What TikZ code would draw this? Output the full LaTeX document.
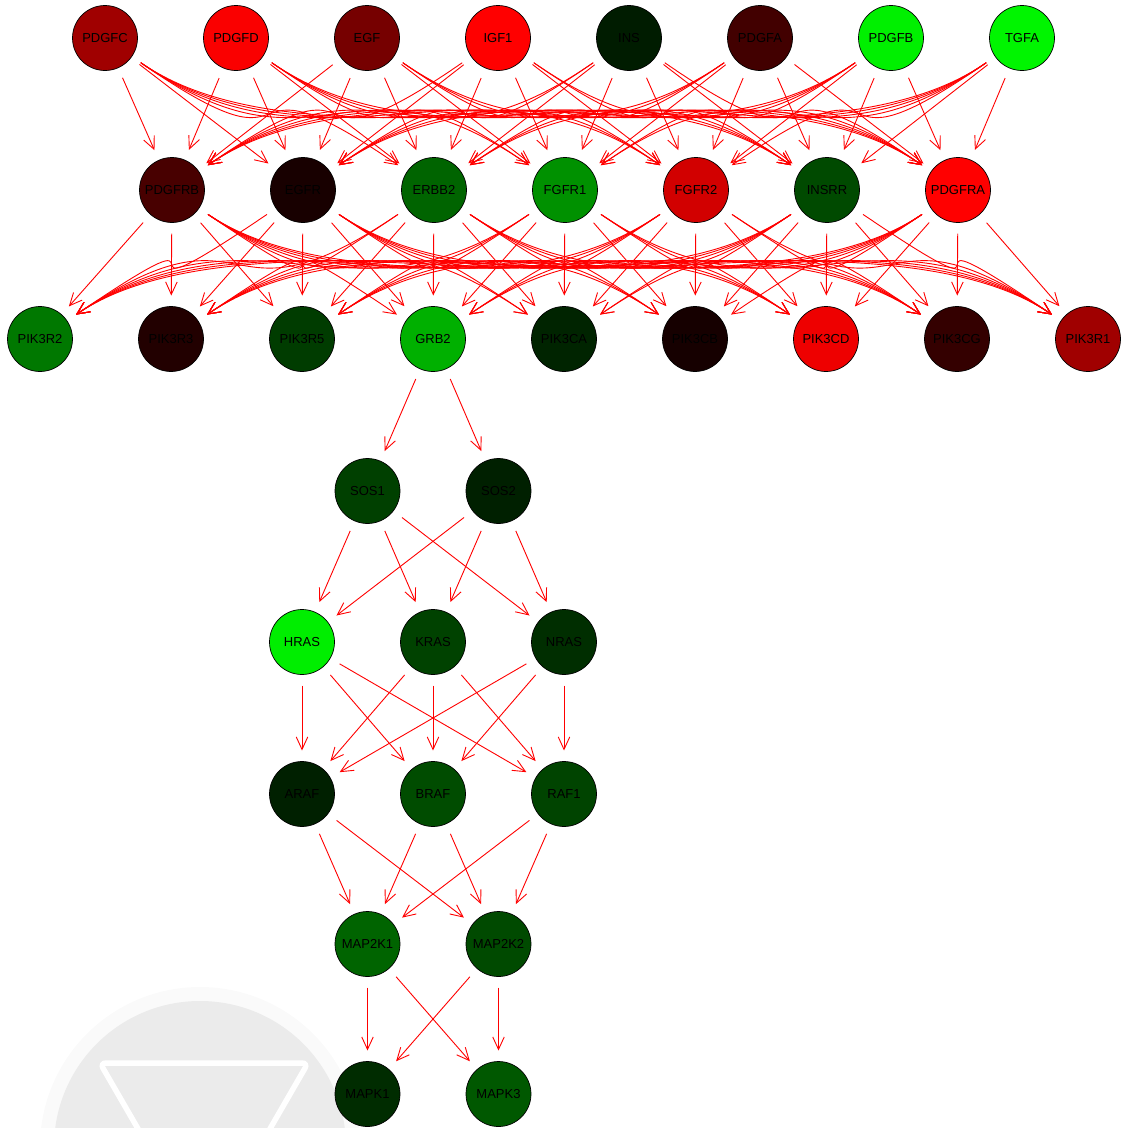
\documentclass[tikz,border=0pt]{standalone}
\usepackage{fontspec}
\setmainfont{Liberation Sans}
\usetikzlibrary{arrows.meta,calc}
\definecolor{cPDGFC}{RGB}{160,0,0}
\definecolor{cPDGFD}{RGB}{250,0,0}
\definecolor{cEGF}{RGB}{118,0,0}
\definecolor{cIGF1}{RGB}{255,0,0}
\definecolor{cINS}{RGB}{0,28,0}
\definecolor{cPDGFA}{RGB}{66,0,0}
\definecolor{cPDGFB}{RGB}{0,240,0}
\definecolor{cTGFA}{RGB}{0,245,0}
\definecolor{cPDGFRB}{RGB}{72,0,0}
\definecolor{cEGFR}{RGB}{24,0,0}
\definecolor{cERBB2}{RGB}{0,100,0}
\definecolor{cFGFR1}{RGB}{0,145,0}
\definecolor{cFGFR2}{RGB}{210,0,0}
\definecolor{cINSRR}{RGB}{0,74,0}
\definecolor{cPDGFRA}{RGB}{255,0,0}
\definecolor{cPIK3R2}{RGB}{0,120,0}
\definecolor{cPIK3R3}{RGB}{34,0,0}
\definecolor{cPIK3R5}{RGB}{0,60,0}
\definecolor{cGRB2}{RGB}{0,176,0}
\definecolor{cPIK3CA}{RGB}{0,36,0}
\definecolor{cPIK3CB}{RGB}{22,0,0}
\definecolor{cPIK3CD}{RGB}{238,0,0}
\definecolor{cPIK3CG}{RGB}{52,0,0}
\definecolor{cPIK3R1}{RGB}{160,0,0}
\definecolor{cSOS1}{RGB}{0,64,0}
\definecolor{cSOS2}{RGB}{0,32,0}
\definecolor{cHRAS}{RGB}{0,238,0}
\definecolor{cKRAS}{RGB}{0,66,0}
\definecolor{cNRAS}{RGB}{0,46,0}
\definecolor{cARAF}{RGB}{0,32,0}
\definecolor{cBRAF}{RGB}{0,76,0}
\definecolor{cRAF1}{RGB}{0,68,0}
\definecolor{cMAP2K1}{RGB}{0,100,0}
\definecolor{cMAP2K2}{RGB}{0,74,0}
\definecolor{cMAPK1}{RGB}{0,44,0}
\definecolor{cMAPK3}{RGB}{0,88,0}
\definecolor{wmark}{RGB}{235,235,235}
\definecolor{whalo}{RGB}{250,250,250}
\begin{document}
\begin{tikzpicture}[x=1pt,y=-1pt,
  gene/.style={circle, draw=black, line width=0.7pt, minimum size=65pt, inner sep=0pt, outer sep=11pt, font=\fontsize{13}{15}\selectfont},
  edge/.style={draw=red, line width=0.9pt, -{Straight Barb[length=12.5pt,width=11.5pt]}}]
\useasboundingbox (0,0) rectangle (1120,1128);
% watermark
\begin{scope}
\clip (0,0) rectangle (1120,1128);
\fill[whalo] (200,1147) circle (160);
\fill[wmark] (200,1147) circle (146);
\draw[white, line width=5.5pt, rounded corners=6pt, fill=wmark] (100,1063) -- (308,1063) -- (204,1243) -- cycle;
\end{scope}
% nodes
\foreach \n [count=\k from 0] in {PDGFC,PDGFD,EGF,IGF1,INS,PDGFA,PDGFB,TGFA}
  \node[gene, fill=c\n] (\n) at ({105+131*\k},38) {\n};
\foreach \n [count=\k from 0] in {PDGFRB,EGFR,ERBB2,FGFR1,FGFR2,INSRR,PDGFRA}
  \node[gene, fill=c\n] (\n) at ({172+131*\k},190) {\n};
\foreach \n [count=\k from 0] in {PIK3R2,PIK3R3,PIK3R5,GRB2,PIK3CA,PIK3CB,PIK3CD,PIK3CG,PIK3R1}
  \node[gene, fill=c\n] (\n) at ({40+131*\k},339) {\n};
\node[gene, fill=cSOS1] (SOS1) at (367.5,491) {SOS1};
\node[gene, fill=cSOS2] (SOS2) at (498.5,491) {SOS2};
\node[gene, fill=cHRAS] (HRAS) at (302,642) {HRAS};
\node[gene, fill=cKRAS] (KRAS) at (433,642) {KRAS};
\node[gene, fill=cNRAS] (NRAS) at (564,642) {NRAS};
\node[gene, fill=cARAF] (ARAF) at (302,794) {ARAF};
\node[gene, fill=cBRAF] (BRAF) at (433,794) {BRAF};
\node[gene, fill=cRAF1] (RAF1) at (564,794) {RAF1};
\node[gene, fill=cMAP2K1] (MAP2K1) at (367.5,944) {MAP2K1};
\node[gene, fill=cMAP2K2] (MAP2K2) at (498.5,944) {MAP2K2};
\node[gene, fill=cMAPK1] (MAPK1) at (367.5,1094) {MAPK1};
\node[gene, fill=cMAPK3] (MAPK3) at (498.5,1094) {MAPK3};
% ligands -> receptors
\foreach \s [count=\i from 0] in {PDGFC,PDGFD,EGF,IGF1,INS,PDGFA,PDGFB,TGFA}{
  \foreach \t [count=\j from 0] in {PDGFRB,EGFR,ERBB2,FGFR1,FGFR2,INSRR,PDGFRA}{
    \pgfmathsetmacro\dx{67+131*(\j-\i)}
    \pgfmathtruncatemacro\st{abs(\dx)<200 ? 1 : 0}
    \pgfmathsetmacro\ax{\dx>0 ? 220 : -220}
    \pgfmathsetmacro\bx{\dx>0 ? -220 : 220}
    \ifnum\st=1
      \draw[edge] (\s) -- (\t);
    \else
      \draw[edge] (\s) .. controls ($(\s.center)+(\ax,152)$) and ($(\t.center)+(\bx,-152)$) .. (\t);
    \fi
  }
}
% receptors -> PI3K / GRB2
\foreach \s [count=\i from 0] in {PDGFRB,EGFR,ERBB2,FGFR1,FGFR2,INSRR,PDGFRA}{
  \foreach \t [count=\j from 0] in {PIK3R2,PIK3R3,PIK3R5,GRB2,PIK3CA,PIK3CB,PIK3CD,PIK3CG,PIK3R1}{
    \pgfmathsetmacro\dx{131*(\j-\i-1)}
    \pgfmathtruncatemacro\st{abs(\dx)<200 ? 1 : 0}
    \pgfmathsetmacro\ax{\dx>0 ? 220 : -220}
    \pgfmathsetmacro\bx{\dx>0 ? -220 : 220}
    \ifnum\st=1
      \draw[edge] (\s) -- (\t);
    \else
      \draw[edge] (\s) .. controls ($(\s.center)+(\ax,149)$) and ($(\t.center)+(\bx,-149)$) .. (\t);
    \fi
  }
}
% MAPK cascade
\foreach \t in {SOS1,SOS2} \draw[edge] (GRB2) -- (\t);
\foreach \s in {SOS1,SOS2} \foreach \t in {HRAS,KRAS,NRAS} \draw[edge] (\s) -- (\t);
\foreach \s in {HRAS,KRAS,NRAS} \foreach \t in {ARAF,BRAF,RAF1} \draw[edge] (\s) -- (\t);
\foreach \s in {ARAF,BRAF,RAF1} \foreach \t in {MAP2K1,MAP2K2} \draw[edge] (\s) -- (\t);
\foreach \s in {MAP2K1,MAP2K2} \foreach \t in {MAPK1,MAPK3} \draw[edge] (\s) -- (\t);
\end{tikzpicture}
\end{document}
